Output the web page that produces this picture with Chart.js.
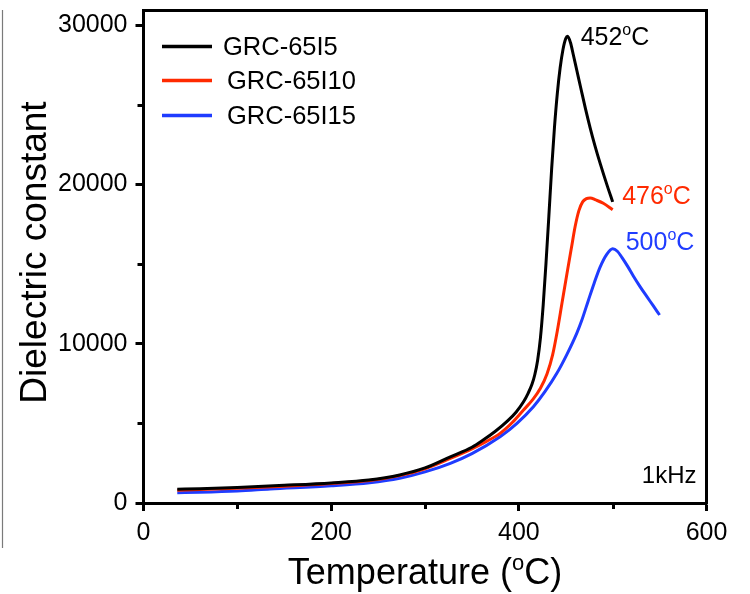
<!DOCTYPE html>
<html>
<head>
<meta charset="utf-8">
<script src="https://cdn.jsdelivr.net/npm/chart.js@4/dist/chart.umd.min.js"></script>
<style>
  html, body { margin: 0; padding: 0; background: #fff; }
  #wrap { position: relative; width: 750px; height: 594px; }
  canvas { display: block; }
</style>
</head>
<body>
<div id="wrap"><canvas id="c" width="750" height="594"></canvas></div>
<script>
// Dielectric constant vs temperature at 1 kHz for three compositions
const seriesNames = ['GRC-65I5', 'GRC-65I10', 'GRC-65I15'];
const seriesColors = ['#000000', '#ff2a00', '#1f3cff'];

const temp5 = [36, 60, 100, 150, 200, 240, 273, 300, 327, 350, 362, 375, 388, 397, 405, 410, 414, 417, 420, 423, 426, 429, 432, 435, 438, 441, 444, 447, 450, 452, 455, 458, 462, 466, 471, 476, 481, 487, 494, 500];
const eps5  = [860, 900, 980, 1110, 1260, 1440, 1760, 2200, 2900, 3500, 3950, 4500, 5150, 5700, 6350, 6900, 7450, 8050, 8950, 10350, 12450, 15100, 18000, 21000, 23600, 25700, 27300, 28450, 29150, 29300, 28900, 28150, 27100, 26050, 24750, 23550, 22450, 21250, 19950, 18900];

const temp10 = [36, 60, 100, 150, 200, 241, 273, 300, 327, 350, 365, 380, 393, 405, 415, 423, 430, 436, 441, 446, 451, 456, 460, 464, 468, 472, 476, 482, 490, 500];
const eps10  = [800, 840, 920, 1050, 1220, 1410, 1720, 2150, 2800, 3400, 3850, 4370, 5050, 5840, 6500, 7200, 8100, 9300, 10800, 12550, 14300, 16000, 17350, 18350, 18900, 19100, 19150, 19020, 18810, 18400];

const temp15 = [36, 60, 100, 135, 200, 241, 273, 300, 327, 350, 380, 398, 415.5, 428, 440.5, 451, 461.7, 467, 474, 480, 486.6, 493.7, 500, 505, 510, 516, 522, 529, 536.5, 543, 550];
const eps15  = [650, 680, 760, 880, 1080, 1270, 1550, 1950, 2490, 3100, 4160, 5000, 6040, 7000, 8140, 9300, 10650, 11450, 12700, 13750, 14800, 15600, 15950, 15800, 15400, 14850, 14250, 13600, 12950, 12400, 11800];

// axis ranges and ticks
const xRange = [0, 600];
const yRange = [0, 30880];
const xMajorTicks = [0, 200, 400, 600];
const yMajorTicks = [0, 10000, 20000, 30000];
const xMinorTicks = [100, 300, 500];
const yMinorTicks = [5000, 15000, 25000];

const xTitleBefore = 'Temperature (';
const xTitleAfter = 'C)';
const yTitle = 'Dielectric constant';
const freqLabel = '1kHz';

const FONT = '"Liberation Sans", Arial, Helvetica, sans-serif';

function toPoints(xs, ys) { return xs.map((x, i) => ({ x: x, y: ys[i] })); }

// text with a raised small "o" standing in for the degree mark
function drawDegreeText(ctx, before, after, x, y, size, color, align) {
  const big = size + 'px ' + FONT;
  const small = Math.round(size * 0.62) + 'px ' + FONT;
  ctx.save();
  ctx.fillStyle = color;
  ctx.textBaseline = 'alphabetic';
  ctx.textAlign = 'left';
  ctx.font = big;
  const w1 = ctx.measureText(before).width;
  const w3 = ctx.measureText(after).width;
  ctx.font = small;
  const w2 = ctx.measureText('o').width;
  const total = w1 + w2 + w3;
  let x0 = x;
  if (align === 'center') x0 = x - total / 2;
  else if (align === 'right') x0 = x - total;
  ctx.font = big;
  ctx.fillText(before, x0, y);
  ctx.font = small;
  ctx.fillText('o', x0 + w1, y - size * 0.40);
  ctx.font = big;
  ctx.fillText(after, x0 + w1 + w2, y);
  ctx.restore();
}

// peak label offsets (pixels) from each curve's maximum
const peakLabelOffsets = [[13, 8.5], [32, 6], [13, 1]];

const decorations = {
  id: 'decorations',
  afterDraw(chart) {
    const ctx = chart.ctx;
    const area = chart.chartArea;
    const xs = chart.scales.x, ys = chart.scales.y;
    ctx.save();

    // thin rule along the left edge
    ctx.strokeStyle = '#7a7a7a';
    ctx.lineWidth = 1.2;
    ctx.beginPath();
    ctx.moveTo(2.5, 10);
    ctx.lineTo(2.5, 548);
    ctx.stroke();

    // top and right frame lines
    ctx.strokeStyle = '#000';
    ctx.lineWidth = 3;
    ctx.lineCap = 'square';
    ctx.beginPath();
    ctx.moveTo(area.left, area.top - 0.5);
    ctx.lineTo(area.right, area.top - 0.5);
    ctx.lineTo(area.right, area.bottom);
    ctx.stroke();

    // minor ticks
    ctx.lineCap = 'butt';
    ctx.beginPath();
    xMinorTicks.forEach(v => {
      const px = Math.round(xs.getPixelForValue(v)) + 0.5;
      ctx.moveTo(px, area.bottom);
      ctx.lineTo(px, area.bottom + 6);
    });
    yMinorTicks.forEach(v => {
      const py = Math.round(ys.getPixelForValue(v)) + 0.5;
      ctx.moveTo(area.left, py);
      ctx.lineTo(area.left - 6, py);
    });
    ctx.stroke();

    // legend
    const legendY = [46.5, 80.5, 115.5];
    const legendTextX = [223, 227, 227];
    chart.data.datasets.forEach((ds, i) => {
      ctx.strokeStyle = ds.borderColor;
      ctx.lineWidth = 3.5;
      ctx.beginPath();
      ctx.moveTo(162, legendY[i]);
      ctx.lineTo(212, legendY[i]);
      ctx.stroke();
      ctx.fillStyle = '#000';
      ctx.font = '25.5px ' + FONT;
      ctx.textAlign = 'left';
      ctx.textBaseline = 'middle';
      ctx.fillText(ds.label, legendTextX[i], legendY[i] + 1);
    });

    // peak temperature labels
    chart.data.datasets.forEach((ds, i) => {
      let peak = ds.data[0];
      ds.data.forEach(p => { if (p.y > peak.y) peak = p; });
      const px = xs.getPixelForValue(peak.x);
      const py = ys.getPixelForValue(peak.y);
      const off = peakLabelOffsets[i];
      drawDegreeText(ctx, String(peak.x), 'C', px + off[0], py + off[1], 25, ds.borderColor, 'left');
    });

    // measurement frequency
    ctx.fillStyle = '#000';
    ctx.font = '24px ' + FONT;
    ctx.textAlign = 'right';
    ctx.textBaseline = 'middle';
    ctx.fillText(freqLabel, area.right - 10, 476);

    // axis titles
    drawDegreeText(ctx, xTitleBefore, xTitleAfter, (area.left + area.right) / 2, 584, 36, '#000', 'center');
    ctx.save();
    ctx.translate(36, (area.top + area.bottom) / 2 - 4.5);
    ctx.rotate(-Math.PI / 2);
    ctx.fillStyle = '#000';
    ctx.font = '37px ' + FONT;
    ctx.textAlign = 'center';
    ctx.textBaseline = 'middle';
    ctx.fillText(yTitle, 0, 0);
    ctx.restore();

    ctx.restore();
  }
};

const tickFont = { family: FONT, size: 25 };
const gridStyle = { drawOnChartArea: false, drawTicks: true, tickLength: 8, tickWidth: 3, tickColor: '#000' };
const borderStyle = { display: true, color: '#000', width: 3 };

new Chart(document.getElementById('c'), {
  type: 'line',
  data: {
    datasets: [
      { label: seriesNames[0], data: toPoints(temp5, eps5), borderColor: seriesColors[0] },
      { label: seriesNames[1], data: toPoints(temp10, eps10), borderColor: seriesColors[1] },
      { label: seriesNames[2], data: toPoints(temp15, eps15), borderColor: seriesColors[2] }
    ].map(d => Object.assign(d, {
      borderWidth: 3,
      pointRadius: 0,
      fill: false,
      cubicInterpolationMode: 'monotone'
    }))
  },
  options: {
    responsive: false,
    animation: false,
    devicePixelRatio: 1,
    layout: { padding: { top: 11, right: 43.5, left: 0, bottom: 0 } },
    plugins: { legend: { display: false }, tooltip: { enabled: false } },
    scales: {
      x: {
        type: 'linear',
        min: xRange[0],
        max: xRange[1],
        afterBuildTicks(s) { s.ticks = xMajorTicks.map(v => ({ value: v })); },
        afterFit(s) { s.height = 91; s.paddingLeft = 0; s.paddingRight = 0; },
        border: borderStyle,
        grid: gridStyle,
        ticks: {
          color: '#000',
          font: tickFont,
          padding: 7,
          maxRotation: 0,
          autoSkip: false,
          callback: v => String(v)
        },
        title: { display: false }
      },
      y: {
        type: 'linear',
        min: yRange[0],
        max: yRange[1],
        afterBuildTicks(s) { s.ticks = yMajorTicks.map(v => ({ value: v })); },
        afterFit(s) { s.width = 143.5; s.paddingTop = 0; s.paddingBottom = 0; },
        border: borderStyle,
        grid: gridStyle,
        ticks: {
          color: '#000',
          font: tickFont,
          padding: 8,
          autoSkip: false,
          callback: v => String(v)
        },
        title: { display: false }
      }
    }
  },
  plugins: [decorations]
});
</script>
</body>
</html>
